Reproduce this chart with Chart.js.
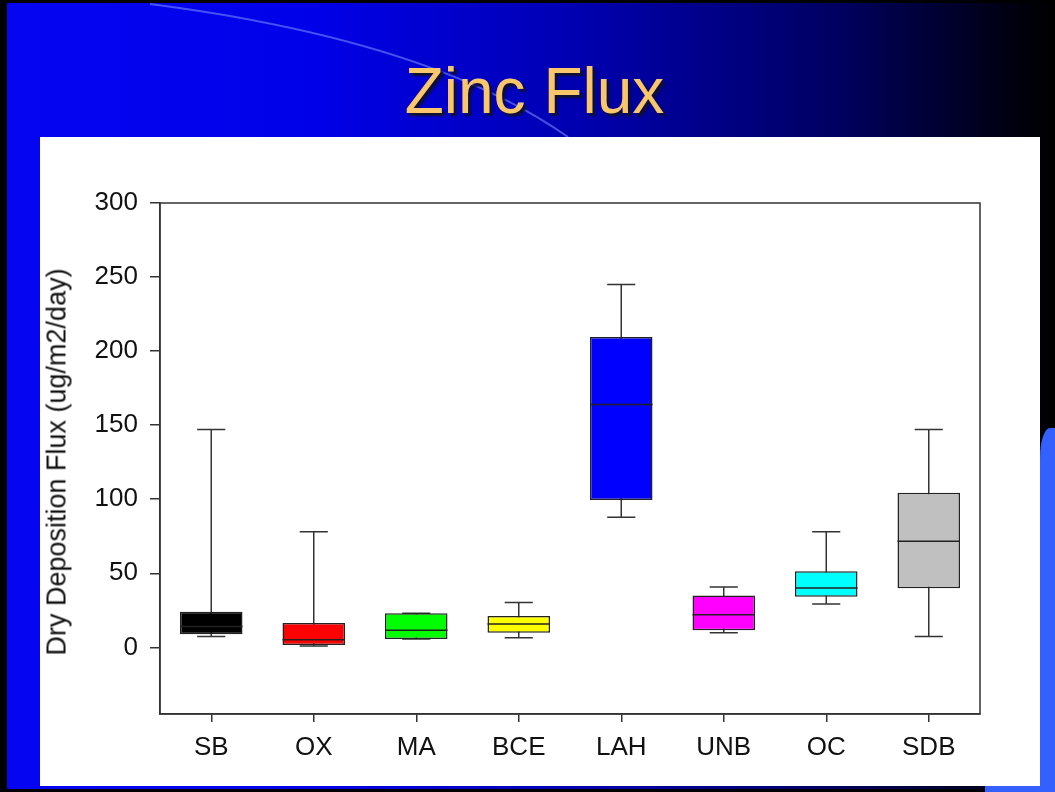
<!DOCTYPE html>
<html>
<head>
<meta charset="utf-8">
<script src="https://cdn.jsdelivr.net/npm/chart.js@4.4.0/dist/chart.umd.min.js"></script>
<style>
  html, body { margin: 0; padding: 0; background: #000; }
  #slide { position: absolute; left: 0; top: 0; width: 1055px; height: 792px; overflow: hidden; background: #000; }
  #fondo { position: absolute; left: 7px; top: 3px; width: 1041px; height: 786px;
    background: linear-gradient(to right, #0505f2 0%, #0000e8 30%, #0000b0 55%, #000060 80%, #000005 99%); }
  #franjaDer { position: absolute; left: 1040px; top: 428px; width: 20px; height: 370px;
    background: #3460ff; border-top-left-radius: 10px 30px; }
  #franjaInf { position: absolute; left: 985px; top: 786px; width: 70px; height: 6px; background: #3460ff; }
  #arco { position: absolute; left: 0; top: 0; }
  #titulo { position: absolute; left: 0; top: 59px; width: 1069px; text-align: center;
    font-family: "Liberation Sans", Arial, sans-serif; font-size: 64px; line-height: 1;
    color: #f9c66a; text-shadow: 3px 3px 2px #101030; }
  #panel { position: absolute; left: 40px; top: 137px; width: 1000px; height: 649px; background: #fff; }
  #ytitulo { position: absolute; left: 57px; top: 462px; transform: translate(-50%, -50%) rotate(-90deg);
    white-space: nowrap; font-family: "Liberation Sans", Arial, sans-serif; font-size: 27px; line-height: 1; color: #111; }
</style>
</head>
<body>
<div id="slide">
  <div id="fondo"></div>
  <svg id="arco" width="1055" height="140">
    <path d="M150,4 Q430,40 568,137" fill="none" stroke="rgba(130,150,255,0.55)" stroke-width="2"/>
  </svg>
  <div id="franjaDer"></div>
  <div id="franjaInf"></div>
  <div id="titulo">Zinc Flux</div>
  <div id="panel"><canvas id="grafico" width="1000" height="649"></canvas></div>
  <div id="ytitulo">Dry Deposition Flux (ug/m2/day)</div>
</div>

<script>
const sitios = ['SB', 'OX', 'MA', 'BCE', 'LAH', 'UNB', 'OC', 'SDB'];
const minimo  = [7.4, 0.9, 5.6, 6.5, 87.8, 9.9, 29.3, 7.4];
const q1      = [8.8, 1.6, 5.6, 9.9, 99.5, 11.5, 34.2, 39.9];
const mediana = [14, 5.2, 11.5, 15.8, 164, 22, 40, 71.6];
const q3      = [24, 16.4, 23, 21.2, 209.5, 35, 51.4, 104.3];
const maximo  = [147, 78, 23, 30.2, 245, 40.8, 78, 147];
const colores = ['#000000', '#ff0000', '#00ff00', '#ffff00', '#0000ff', '#ff00ff', '#00ffff', '#c0c0c0'];
const marcasY = [0, 50, 100, 150, 200, 250, 300];

const fuente = "'Liberation Sans', Arial, sans-serif";

// bigotes detras de las cajas, medianas y marco encima
const pluginCajas = {
  id: 'cajas',
  beforeDatasetsDraw(chart) {
    const ctx = chart.ctx;
    const y = chart.scales.y;
    const barras = chart.getDatasetMeta(0).data;
    ctx.save();
    ctx.strokeStyle = '#333';
    ctx.lineWidth = 1.5;
    barras.forEach((b, i) => {
      const cap = b.width * 0.45 / 2;
      const yMin = y.getPixelForValue(minimo[i]);
      const yMax = y.getPixelForValue(maximo[i]);
      ctx.beginPath();
      ctx.moveTo(b.x, yMax); ctx.lineTo(b.x, yMin);
      ctx.moveTo(b.x - cap, yMax); ctx.lineTo(b.x + cap, yMax);
      ctx.moveTo(b.x - cap, yMin); ctx.lineTo(b.x + cap, yMin);
      ctx.stroke();
    });
    ctx.restore();
  },
  afterDatasetsDraw(chart) {
    const ctx = chart.ctx;
    const y = chart.scales.y;
    const barras = chart.getDatasetMeta(0).data;
    ctx.save();
    ctx.strokeStyle = '#222';
    ctx.lineWidth = 1.5;
    barras.forEach((b, i) => {
      const ym = y.getPixelForValue(mediana[i]);
      ctx.beginPath();
      ctx.moveTo(b.x - b.width / 2, ym); ctx.lineTo(b.x + b.width / 2, ym);
      ctx.stroke();
    });
    const a = chart.chartArea;
    ctx.strokeStyle = '#333';
    ctx.strokeRect(a.left, a.top, a.right - a.left, a.bottom - a.top);
    ctx.restore();
  }
};

new Chart(document.getElementById('grafico'), {
  type: 'bar',
  data: {
    labels: sitios,
    datasets: [{
      data: sitios.map((s, i) => [q1[i], q3[i]]),
      backgroundColor: colores,
      borderColor: '#222',
      borderWidth: 1.5,
      borderSkipped: false,
      barPercentage: 0.61,
      categoryPercentage: 1
    }]
  },
  options: {
    responsive: false,
    animation: false,
    layout: { padding: { left: 40, top: 66, right: 60, bottom: 2 } },
    plugins: { legend: { display: false }, tooltip: { enabled: false } },
    scales: {
      x: {
        grid: { display: true, offset: false, drawOnChartArea: false, drawTicks: true, tickLength: 8, color: '#333', lineWidth: 1.5 },
        border: { display: true, color: '#333', width: 1.5 },
        ticks: { color: '#111', font: { family: fuente, size: 26 }, padding: 10 },
        afterFit(scale) { scale.height = 70; }
      },
      y: {
        min: -45,
        max: 300,
        grid: { display: true, drawOnChartArea: false, drawTicks: true, tickLength: 10, color: '#333', lineWidth: 1.5 },
        border: { display: true, color: '#333', width: 1.5 },
        ticks: { color: '#111', font: { family: fuente, size: 26 }, padding: 12 },
        afterBuildTicks(scale) { scale.ticks = marcasY.map(v => ({ value: v })); },
        afterFit(scale) { scale.width = 80; }
      }
    }
  },
  plugins: [pluginCajas]
});
</script>
</body>
</html>
